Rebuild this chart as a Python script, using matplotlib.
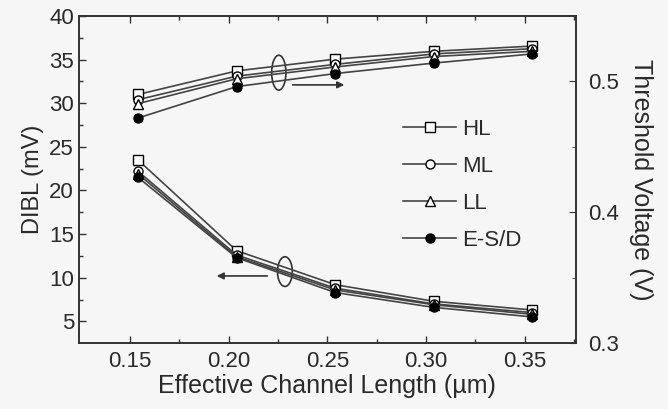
import numpy as np
import matplotlib
matplotlib.use("Agg")
import matplotlib.pyplot as plt
from matplotlib.patches import Arc

plt.rcParams['font.family'] = ['Liberation Sans', 'DejaVu Sans']

# data
leff = [0.154, 0.204, 0.254, 0.304, 0.354]
series = ["HL", "ML", "LL", "E-S/D"]
markers = ["s", "o", "^", "o"]
faces = ["white", "white", "white", "black"]

# DIBL (mV), left axis
dibl = {
    "HL":    [23.5, 13.1, 9.2, 7.3, 6.3],
    "ML":    [22.2, 12.6, 8.8, 7.0, 6.0],
    "LL":    [21.9, 12.4, 8.6, 6.9, 5.8],
    "E-S/D": [21.5, 12.3, 8.3, 6.6, 5.5],
}
# threshold voltage (V), right axis
vth = {
    "HL":    [0.490, 0.508, 0.517, 0.523, 0.527],
    "ML":    [0.486, 0.504, 0.513, 0.521, 0.525],
    "LL":    [0.483, 0.502, 0.511, 0.519, 0.523],
    "E-S/D": [0.472, 0.496, 0.506, 0.514, 0.521],
}

txt = "#2a2a2a"
fig = plt.figure(figsize=(6.68, 4.09), dpi=100, facecolor="#f6f6f6")
ax = fig.add_axes([0.118, 0.161, 0.744, 0.800])
ax.set_facecolor("#f6f6f6")
ax2 = ax.twinx()

for i, s in enumerate(series):
    kw = dict(color="#444444", lw=1.2, marker=markers[i], ms=6.5,
              mfc=faces[i], mec="black", mew=1.0)
    ax.plot(leff, dibl[s], label=s, **kw)
    ax2.plot(leff, vth[s], **kw)

ax.set_xlim(0.124, 0.376)
ax.set_ylim(2.5, 40)
ax2.set_ylim(0.3, 0.55)

ax.set_xticks([0.15, 0.20, 0.25, 0.30, 0.35])
ax.set_xticklabels(["0.15", "0.20", "0.25", "0.30", "0.35"])
ax.set_xticks(np.arange(0.175, 0.376, 0.05), minor=True)
ax.set_yticks(range(5, 41, 5))
ax.set_yticks(np.arange(7.5, 40, 5), minor=True)
ax2.set_yticks([0.3, 0.4, 0.5])
ax2.set_yticks([0.35, 0.45], minor=True)

ax.tick_params(which="both", direction="in", top=True, right=False,
               colors="#333333", labelcolor=txt, labelsize=16)
ax.tick_params(which="major", length=5, width=1)
ax.tick_params(which="minor", length=3, width=1)
ax.tick_params(axis="x", pad=6)
ax2.tick_params(which="both", direction="in", colors="#333333",
                labelcolor=txt, labelsize=16, pad=9)
ax2.tick_params(which="major", length=5)
ax2.tick_params(which="minor", length=3)
for a in (ax, ax2):
    for sp in a.spines.values():
        sp.set_color("#333333")
        sp.set_linewidth(1.2)

ax.set_xlabel("Effective Channel Length (\u00b5m)", fontsize=18, color=txt, labelpad=1)
ax.set_ylabel("DIBL (mV)", fontsize=17, color=txt, labelpad=4)
ax2.set_ylabel("Threshold Voltage (V)", fontsize=18, color=txt,
               rotation=270, labelpad=24)

# bracket rings and arrows
ax.add_patch(Arc((0.2254, 33.5), 0.0072, 4.0, theta1=-140, theta2=140,
                 color="#333333", lw=1.2))
ax.annotate("", xy=(0.260, 32.1), xytext=(0.231, 32.1),
            arrowprops=dict(arrowstyle="-|>", color="#333333", lw=1.2,
                            mutation_scale=10))
ax.add_patch(Arc((0.2285, 10.7), 0.0075, 3.4, theta1=-140, theta2=140,
                 color="#333333", lw=1.2))
ax.annotate("", xy=(0.1925, 10.2), xytext=(0.221, 10.2),
            arrowprops=dict(arrowstyle="-|>", color="#333333", lw=1.2,
                            mutation_scale=10))

leg = ax.legend(loc="upper left", bbox_to_anchor=(0.63, 0.72), frameon=False,
                fontsize=16, handlelength=2.4, handletextpad=0.25,
                labelspacing=0.72, borderpad=0)
for t in leg.get_texts():
    t.set_color(txt)

fig.savefig("out.png", dpi=100, facecolor=fig.get_facecolor())
